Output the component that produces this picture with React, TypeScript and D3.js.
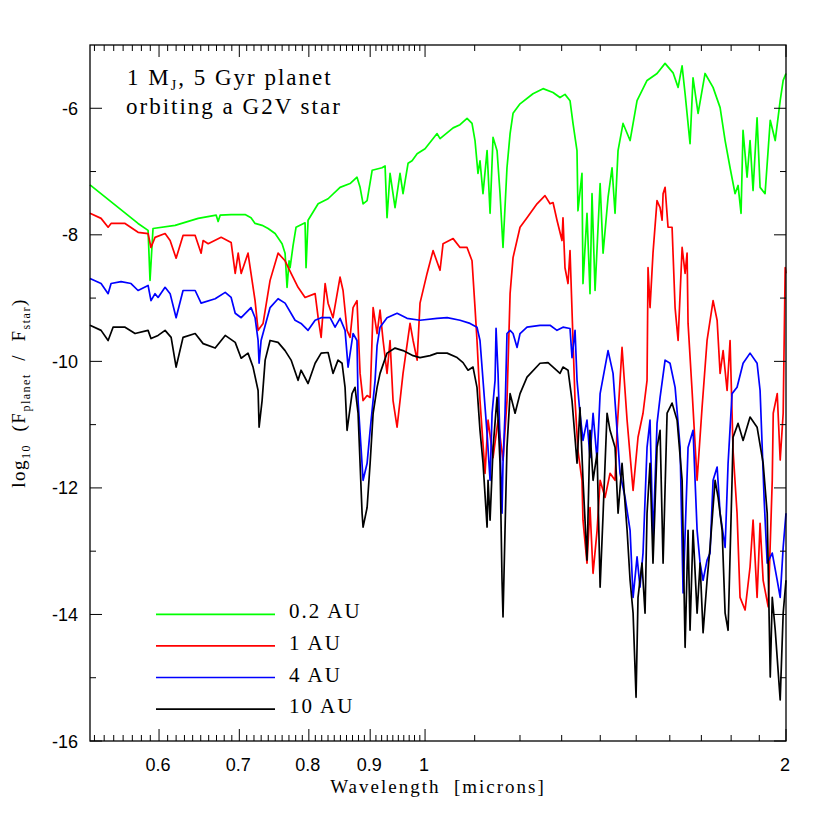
import React from 'react';
import * as d3 from 'd3';

// ---------- data (wavelength in microns, log10 flux ratio) ----------
const wlGreen = [0.5255,0.5763,0.5875,0.5897,0.5931,0.6188,0.6468,0.6696,0.6721,0.6747,0.6891,0.7078,0.7159,0.7215,0.7313,0.7398,0.7498,0.7599,0.7643,0.7672,0.7702,0.7717,0.7761,0.7806,0.7942,0.7957,0.7988,0.8144,0.8301,0.8494,0.8659,0.8775,0.8827,0.8878,0.8947,0.9034,0.9208,0.9261,0.9296,0.9350,0.9440,0.9531,0.9586,0.9679,0.9754,0.9849,1.0,1.0234,1.0292,1.0554,1.0695,1.0840,1.0944,1.1007,1.1070,1.1113,1.1177,1.1265,1.1330,1.1395,1.1483,1.1549,1.1615,1.1704,1.1774,1.1841,1.2001,1.2303,1.2543,1.2786,1.2958,1.3083,1.3210,1.3286,1.3388,1.3413,1.3517,1.3543,1.3648,1.3727,1.3780,1.3861,1.3996,1.4076,1.4211,1.4320,1.4403,1.4486,1.4626,1.4825,1.5025,1.5316,1.5613,1.5855,1.6101,1.6257,1.6382,1.6477,1.6634,1.6730,1.6893,1.7121,1.7386,1.7623,1.7793,1.7963,1.8136,1.8241,1.8346,1.8416,1.8559,1.8666,1.8774,1.8919,1.9029,1.9212,1.9404,1.9590,1.9778,1.9892,2.0];
const fluxGreen = [-7.21,-7.82,-7.93,-8.72,-7.90,-7.85,-7.74,-7.69,-7.79,-7.69,-7.68,-7.68,-7.73,-7.82,-7.85,-7.90,-7.98,-8.14,-8.29,-8.83,-8.41,-8.52,-8.17,-7.88,-7.81,-8.52,-7.77,-7.51,-7.43,-7.25,-7.19,-7.09,-7.25,-7.51,-7.46,-6.98,-6.94,-6.91,-7.73,-7.03,-7.57,-7.03,-7.35,-6.87,-6.83,-6.72,-6.64,-6.40,-6.48,-6.31,-6.26,-6.16,-6.24,-6.51,-7.03,-6.83,-7.35,-6.67,-7.66,-6.46,-6.67,-7.35,-8.20,-6.94,-6.40,-6.08,-5.93,-5.77,-5.69,-5.75,-5.83,-5.78,-5.88,-6.24,-6.67,-7.62,-7.03,-8.77,-7.66,-8.93,-7.35,-8.88,-7.19,-8.29,-7.41,-6.94,-7.66,-6.67,-6.24,-6.51,-5.88,-5.56,-5.45,-5.29,-5.44,-5.67,-5.33,-5.77,-6.56,-5.52,-6.08,-5.45,-5.67,-5.99,-6.51,-6.94,-7.35,-7.22,-7.66,-6.35,-7.09,-6.51,-7.30,-6.15,-7.25,-7.35,-6.19,-6.51,-5.88,-5.56,-5.45];

const wlRed = [0.5255,0.5368,0.5441,0.5472,0.5621,0.5763,0.5875,0.5908,0.5954,0.6070,0.6129,0.6200,0.6283,0.6431,0.6505,0.6530,0.6594,0.6760,0.6891,0.6945,0.6985,0.7025,0.7118,0.7159,0.7215,0.7257,0.7327,0.7426,0.7541,0.7643,0.7732,0.7836,0.7942,0.8097,0.8144,0.8191,0.8254,0.8301,0.8380,0.8494,0.8543,0.8609,0.8659,0.8709,0.8775,0.8827,0.8878,0.8947,0.8999,0.9051,0.9120,0.9172,0.9226,0.9296,0.9350,0.9404,0.9477,0.9531,0.9586,0.9716,0.9773,0.9849,0.9904,1.0039,1.0155,1.0292,1.0352,1.0554,1.0695,1.0840,1.0944,1.1007,1.1049,1.1113,1.1221,1.1286,1.1395,1.1505,1.1615,1.1704,1.1774,1.1841,1.2001,1.2163,1.2399,1.2590,1.2713,1.2786,1.2884,1.3008,1.3033,1.3083,1.3159,1.3210,1.3286,1.3338,1.3413,1.3517,1.3543,1.3648,1.3727,1.3807,1.3915,1.3996,1.4130,1.4265,1.4403,1.4459,1.4542,1.4598,1.4740,1.4911,1.5053,1.5198,1.5316,1.5345,1.5404,1.5492,1.5612,1.5704,1.5765,1.5795,1.5856,1.5946,1.6070,1.6163,1.6257,1.6383,1.6477,1.6540,1.6571,1.6699,1.6861,1.7023,1.7187,1.7387,1.7522,1.7623,1.7725,1.7861,1.7963,1.8067,1.8206,1.8311,1.8489,1.8666,1.8775,1.8920,1.9029,1.9141,1.9329,1.9479,1.9516,1.9666,1.9778,1.9892,1.9969,2.0];
const fluxRed = [-7.66,-7.74,-7.88,-7.82,-7.82,-7.96,-7.98,-8.20,-8.04,-7.98,-8.09,-8.37,-8.01,-8.01,-8.29,-8.09,-8.14,-8.04,-8.12,-8.61,-8.29,-8.61,-8.29,-8.61,-9.04,-9.51,-9.40,-8.72,-8.29,-8.41,-8.61,-8.83,-8.99,-8.93,-9.31,-9.62,-8.77,-9.08,-9.31,-8.67,-8.88,-9.51,-9.62,-9.15,-9.04,-10.19,-10.62,-10.54,-10.57,-9.15,-9.56,-9.19,-9.67,-10.19,-9.67,-10.62,-11.04,-10.62,-10.19,-9.40,-9.67,-9.98,-9.08,-8.61,-8.25,-8.56,-8.14,-8.06,-8.20,-8.20,-8.41,-9.15,-9.67,-10.62,-11.77,-10.93,-11.52,-10.93,-11.56,-10.62,-8.93,-8.36,-7.88,-7.73,-7.51,-7.38,-7.51,-7.49,-7.77,-8.09,-7.73,-8.52,-8.77,-8.25,-9.67,-10.62,-11.41,-11.88,-12.51,-13.19,-12.31,-13.35,-12.67,-11.88,-12.15,-11.77,-11.88,-11.09,-10.30,-9.78,-10.93,-12.04,-11.20,-10.82,-10.30,-8.52,-9.15,-8.29,-7.46,-7.57,-7.77,-7.35,-7.25,-7.88,-7.88,-9.15,-9.67,-8.20,-8.61,-8.29,-9.40,-10.46,-11.88,-10.73,-9.67,-9.04,-9.35,-10.19,-9.83,-10.46,-9.67,-11.41,-12.40,-13.73,-13.93,-13.25,-12.51,-13.73,-12.56,-13.46,-13.88,-11.88,-10.82,-10.51,-11.56,-10.82,-8.52,-8.61];

const wlBlue = [0.5255,0.5368,0.5441,0.5472,0.5578,0.5686,0.5763,0.5875,0.5908,0.5954,0.5989,0.6070,0.6129,0.6200,0.6283,0.6431,0.6505,0.6683,0.6813,0.6891,0.6945,0.7025,0.7159,0.7215,0.7257,0.7271,0.7299,0.7426,0.7541,0.7643,0.7791,0.7881,0.7988,0.8097,0.8191,0.8333,0.8413,0.8494,0.8576,0.8626,0.8709,0.8775,0.8793,0.8878,0.8947,0.8999,0.9085,0.9120,0.9172,0.9296,0.9477,0.9660,0.9904,1.0234,1.0434,1.0695,1.0902,1.1049,1.1113,1.1265,1.1330,1.1374,1.1439,1.1461,1.1505,1.1593,1.1615,1.1660,1.1704,1.1774,1.1841,1.1933,1.2001,1.2163,1.2470,1.2713,1.2884,1.3033,1.3210,1.3261,1.3338,1.3389,1.3465,1.3544,1.3648,1.3727,1.3808,1.3915,1.3996,1.4211,1.4348,1.4459,1.4542,1.4683,1.4825,1.4911,1.5025,1.5110,1.5198,1.5316,1.5404,1.5492,1.5613,1.5704,1.5856,1.6007,1.6164,1.6320,1.6414,1.6571,1.6731,1.6861,1.6958,1.7056,1.7187,1.7286,1.7387,1.7522,1.7623,1.7793,1.7895,1.8032,1.8206,1.8418,1.8666,1.8920,1.9029,1.9179,1.9291,1.9479,1.9666,1.9778,1.9892,2.0];
const fluxBlue = [-8.69,-8.77,-8.93,-8.77,-8.74,-8.77,-8.88,-8.80,-9.04,-8.93,-8.99,-8.83,-8.93,-9.31,-8.88,-8.88,-9.08,-9.01,-8.91,-8.99,-9.24,-9.31,-9.15,-9.31,-9.67,-10.03,-9.67,-9.15,-9.01,-9.08,-9.35,-9.40,-9.51,-9.35,-9.31,-9.31,-9.46,-9.32,-9.51,-10.09,-9.56,-9.67,-10.62,-11.88,-11.61,-11.09,-10.30,-9.75,-9.46,-9.31,-9.24,-9.32,-9.35,-9.32,-9.31,-9.35,-9.40,-9.46,-9.67,-11.14,-11.88,-10.82,-10.30,-9.48,-10.19,-12.40,-11.61,-10.82,-9.56,-9.51,-9.56,-9.78,-9.56,-9.46,-9.43,-9.43,-9.51,-9.46,-9.48,-9.94,-9.51,-10.30,-10.82,-11.25,-10.93,-11.52,-10.82,-11.56,-10.51,-9.83,-10.19,-11.09,-11.77,-12.15,-12.67,-13.73,-13.09,-13.57,-13.03,-11.36,-10.93,-12.83,-10.98,-10.57,-9.98,-10.03,-10.41,-11.36,-13.66,-11.36,-11.09,-12.67,-13.19,-13.46,-13.14,-13.03,-11.88,-11.67,-12.40,-12.94,-11.61,-10.51,-10.41,-10.03,-9.87,-10.03,-10.46,-12.19,-13.19,-13.03,-13.46,-13.73,-12.94,-12.40];

const wlBlack = [0.5255,0.5368,0.5441,0.5493,0.5621,0.5730,0.5875,0.5908,0.5989,0.6070,0.6141,0.6200,0.6283,0.6431,0.6530,0.6683,0.6813,0.6945,0.7025,0.7118,0.7187,0.7257,0.7271,0.7313,0.7356,0.7426,0.7541,0.7643,0.7732,0.7836,0.7881,0.7988,0.8097,0.8191,0.8301,0.8380,0.8461,0.8527,0.8576,0.8609,0.8692,0.8742,0.8793,0.8861,0.8878,0.8947,0.8999,0.9051,0.9120,0.9172,0.9296,0.9440,0.9587,0.9773,0.9904,1.0097,1.0234,1.0433,1.0635,1.0757,1.0861,1.0965,1.1049,1.1113,1.1178,1.1265,1.1286,1.1330,1.1396,1.1483,1.1549,1.1593,1.1615,1.1660,1.1704,1.1774,1.1887,1.2001,1.2163,1.2470,1.2664,1.2787,1.2958,1.3033,1.3160,1.3261,1.3389,1.3465,1.3544,1.3648,1.3727,1.3808,1.3915,1.3996,1.4077,1.4184,1.4265,1.4404,1.4487,1.4598,1.4740,1.4825,1.4911,1.4996,1.5053,1.5168,1.5257,1.5316,1.5404,1.5492,1.5613,1.5704,1.5795,1.5917,1.6070,1.6226,1.6383,1.6477,1.6571,1.6634,1.6731,1.6861,1.6958,1.7056,1.7187,1.7286,1.7454,1.7555,1.7691,1.7793,1.7895,1.8032,1.8067,1.8241,1.8418,1.8666,1.8920,1.9141,1.9291,1.9404,1.9479,1.9591,1.9778,1.9892,2.0];
const fluxBlack = [-9.43,-9.51,-9.67,-9.46,-9.46,-9.56,-9.51,-9.64,-9.59,-9.51,-9.62,-10.09,-9.62,-9.56,-9.72,-9.79,-9.59,-9.70,-9.95,-9.87,-10.09,-10.46,-11.04,-10.62,-9.98,-9.67,-9.70,-9.83,-9.98,-10.30,-10.14,-10.35,-10.03,-9.87,-9.86,-10.19,-9.98,-10.03,-10.41,-11.09,-10.51,-10.41,-10.82,-12.40,-12.62,-12.31,-11.61,-10.82,-10.41,-10.19,-9.87,-9.79,-9.83,-9.91,-9.94,-9.91,-9.87,-9.87,-9.94,-10.02,-10.14,-10.09,-10.41,-11.09,-11.61,-12.62,-11.88,-12.51,-11.36,-10.57,-11.61,-13.46,-14.04,-12.67,-11.36,-10.51,-10.82,-10.51,-10.25,-10.03,-10.02,-10.09,-10.19,-10.09,-10.14,-10.62,-11.61,-10.73,-11.88,-13.14,-11.09,-11.88,-11.45,-13.57,-12.40,-10.82,-11.09,-11.36,-12.40,-11.61,-12.67,-13.46,-13.98,-15.31,-13.73,-13.19,-13.98,-12.40,-11.61,-13.19,-11.36,-11.09,-13.19,-10.82,-10.66,-10.93,-11.88,-14.52,-12.67,-14.25,-12.67,-13.98,-13.19,-14.29,-13.46,-12.94,-11.88,-12.15,-12.67,-13.98,-14.25,-11.88,-11.20,-10.98,-11.25,-10.88,-11.04,-11.61,-12.40,-14.99,-13.73,-14.25,-15.35,-13.98,-13.46];

const seriesNames = ['0.2 AU', '1 AU', '4 AU', '10 AU'];
const seriesColors = ['#00ff00', '#ff0000', '#0000ff', '#000000'];
const seriesWl = [wlGreen, wlRed, wlBlue, wlBlack];
const seriesFlux = [fluxGreen, fluxRed, fluxBlue, fluxBlack];

const xDomain = [0.5255, 2.0];
const yDomain = [-16, -5];
const xMajorTicks = [0.6, 0.7, 0.8, 0.9, 1, 2];
const xMajorLabels = ['0.6', '0.7', '0.8', '0.9', '1', '2'];
const yMajorTicks = [-6, -8, -10, -12, -14, -16];
const yMajorLabels = ['-6', '-8', '-10', '-12', '-14', '-16'];
const yMinorTicks = [-7, -9, -11, -13, -15];

const SERIF = '"Liberation Serif", "Times New Roman", serif';
const SANS = '"Liberation Sans", Arial, sans-serif';

export default function App() {
  const L = 90, R = 786, T = 45, B = 741;
  const x = d3.scaleLog().domain(xDomain).range([L, R]);
  const y = d3.scaleLinear().domain(yDomain).range([B, T]);
  const line = d3.line<[number, number]>().x(d => x(d[0])).y(d => y(d[1]));

  const xMinor: number[] = [];
  for (let i = 53; i < 100; i++) if (i % 10 !== 0) xMinor.push(i / 100);
  for (let i = 11; i < 20; i++) xMinor.push(i / 10);

  const majLen = 12, minLen = 6;
  const tickColor = '#000';
  const legX0 = 156, legX1 = 275;

  return (
    <svg width={830} height={830} style={{ position: 'absolute', left: 0, top: 0, background: '#fff' }}>
      <rect x={0} y={0} width={830} height={830} fill="#fff" />
      {/* spectra */}
      <g fill="none" strokeWidth={1.7} strokeLinejoin="round">
        {seriesWl.map((wl, si) => {
          const pts: [number, number][] = wl.map((w, i) => [w, seriesFlux[si][i]] as [number, number]).filter(p => p[1] !== undefined);
          return <path key={si} d={line(pts) || ''} stroke={seriesColors[si]} />;
        })}
      </g>
      {/* frame */}
      <rect x={L} y={T} width={R - L} height={B - T} fill="none" stroke="#000" strokeWidth={1.3} />
      {/* ticks */}
      <g stroke={tickColor} strokeWidth={1}>
        {xMajorTicks.map((t, i) => (
          <g key={'xM' + i}>
            <line x1={x(t)} x2={x(t)} y1={B} y2={B - majLen} />
            <line x1={x(t)} x2={x(t)} y1={T} y2={T + majLen} />
          </g>
        ))}
        {xMinor.map((t, i) => (
          <g key={'xm' + i}>
            <line x1={x(t)} x2={x(t)} y1={B} y2={B - minLen} />
            <line x1={x(t)} x2={x(t)} y1={T} y2={T + minLen} />
          </g>
        ))}
        {yMajorTicks.map((t, i) => (
          <g key={'yM' + i}>
            <line x1={L} x2={L + majLen} y1={y(t)} y2={y(t)} />
            <line x1={R} x2={R - majLen} y1={y(t)} y2={y(t)} />
          </g>
        ))}
        {yMinorTicks.map((t, i) => (
          <g key={'ym' + i}>
            <line x1={L} x2={L + minLen} y1={y(t)} y2={y(t)} />
            <line x1={R} x2={R - minLen} y1={y(t)} y2={y(t)} />
          </g>
        ))}
      </g>
      {/* tick labels */}
      <g fontFamily={SANS} fontSize={18} fill="#000">
        {xMajorTicks.map((t, i) => (
          <text key={'xl' + i} x={x(t) - 1} y={771} textAnchor="middle">{xMajorLabels[i]}</text>
        ))}
        {yMajorTicks.map((t, i) => (
          <text key={'yl' + i} x={78} y={y(t) + 6.5} textAnchor="end">{yMajorLabels[i]}</text>
        ))}
      </g>
      {/* axis titles */}
      <text x={438} y={793} textAnchor="middle" fontFamily={SERIF} fontSize={19} letterSpacing={2} style={{ whiteSpace: 'pre' }}>
        {'Wavelength  [microns]'}
      </text>
      <text transform="translate(25,393) rotate(-90)" textAnchor="middle" fontFamily={SERIF} fontSize={19} letterSpacing={1.5} style={{ whiteSpace: 'pre' }}>
        <tspan>log</tspan>
        <tspan fontSize={12} dy={5}>10</tspan>
        <tspan dy={-5}>{'  (F'}</tspan>
        <tspan fontSize={12} dy={5}>planet</tspan>
        <tspan dy={-5}>{'  /  F'}</tspan>
        <tspan fontSize={12} dy={5}>star</tspan>
        <tspan dy={-5}>)</tspan>
      </text>
      {/* annotation */}
      <g fontFamily={SERIF} fontSize={23} letterSpacing={2} style={{ whiteSpace: 'pre' }}>
        <text x={127} y={85}>
          <tspan>1 M</tspan>
          <tspan fontSize={14} dy={5}>J</tspan>
          <tspan dy={-5}>, 5 Gyr planet</tspan>
        </text>
        <text x={126} y={114}>orbiting a G2V star</text>
      </g>
      {/* legend */}
      <g>
        {seriesNames.map((name, i) => {
          const ly = 614.3 + i * 31.6;
          return (
            <g key={'lg' + i}>
              <line x1={legX0} x2={legX1} y1={ly} y2={ly} stroke={seriesColors[i]} strokeWidth={1.7} />
              <text x={289} y={ly + 4} fontFamily={SERIF} fontSize={21} letterSpacing={2} style={{ whiteSpace: 'pre' }}>{name}</text>
            </g>
          );
        })}
      </g>
    </svg>
  );
}
